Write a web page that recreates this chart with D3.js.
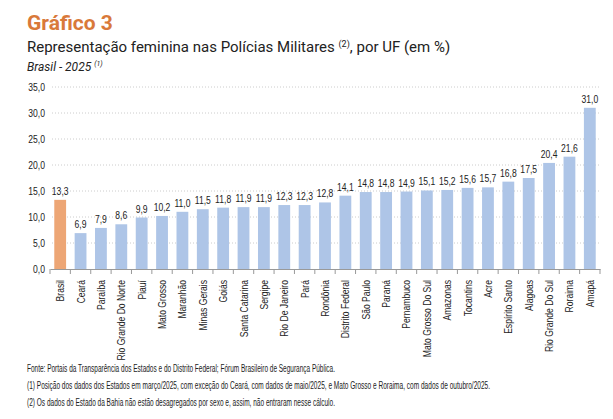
<!DOCTYPE html>
<html><head><meta charset="utf-8">
<script src="https://cdn.jsdelivr.net/npm/d3@7"></script>
<style>
body{margin:0;background:#fff;}
text{font-family:"Liberation Sans",sans-serif;}
</style></head><body>
<svg id="c" width="613" height="419"></svg>
<script>
const states = ["Brasil","Ceará","Paraíba","Rio Grande Do Norte","Piauí","Mato Grosso","Maranhão","Minas Gerais","Goiás","Santa Catarina","Sergipe","Rio De Janeiro","Pará","Rondônia","Distrito Federal","São Paulo","Paraná","Pernambuco","Mato Grosso Do Sul","Amazonas","Tocantins","Acre","Espírito Santo","Alagoas","Rio Grande Do Sul","Roraima","Amapá"];
const values = [13.3,6.9,7.9,8.6,9.9,10.2,11.0,11.5,11.8,11.9,11.9,12.3,12.3,12.8,14.1,14.8,14.8,14.9,15.1,15.2,15.6,15.7,16.8,17.5,20.4,21.6,31.0];
const yTicks = [0,5,10,15,20,25,30,35];
const fmt = v => d3.format(".1f")(v).replace(".", ",");
const SX = 0.78;

const svg = d3.select("#c");
const x = d3.scaleBand().domain(states).range([50, 600]).paddingInner(0.42).paddingOuter(0.21);
const y = d3.scaleLinear().domain([0,35]).range([269, 87]);

// header
svg.append("text").attr("x",27).attr("y",30).attr("fill","#d9793a")
  .style("font-family","Roboto,sans-serif").style("font-size","21px").style("font-weight","bold").text("Gráfico 3");
const t = svg.append("text").attr("x",27).attr("y",52).attr("fill","#222")
  .style("font-family","Roboto,sans-serif").style("font-size","15px");
t.append("tspan").text("Representação feminina nas Polícias Militares ");
t.append("tspan").attr("dy",-5).style("font-size","9px").text("(2)");
t.append("tspan").attr("dy",5).text(", por UF (em %)");
const s = svg.append("text").attr("x",27).attr("y",71).attr("fill","#222")
  .style("font-family","Roboto,sans-serif").style("font-size","12px").style("font-style","italic");
s.append("tspan").text("Brasil - 2025 ");
s.append("tspan").attr("dy",-5).style("font-size","7px").text("(1)");

// grid + y axis labels
svg.append("g").selectAll("line").data(yTicks.slice(1)).join("line")
  .attr("x1",52).attr("x2",600).attr("y1",d=>y(d)).attr("y2",d=>y(d))
  .attr("stroke","#ccc").attr("stroke-dasharray","1,2");
svg.append("g").selectAll("text").data(yTicks).join("text")
  .attr("transform",d=>`translate(45,${y(d)+4}) scale(${SX},1)`).attr("text-anchor","end")
  .style("font-size","11px").attr("fill","#222").text(fmt);

// bars
svg.append("g").selectAll("rect").data(values).join("rect")
  .attr("x",(d,i)=>x(states[i])).attr("width",x.bandwidth())
  .attr("y",d=>y(d)).attr("height",d=>y(0)-y(d))
  .attr("fill",(d,i)=>i===0?"#eda675":"#aec5e7");
svg.append("g").selectAll("text").data(values).join("text")
  .attr("transform",(d,i)=>`translate(${x(states[i])+x.bandwidth()/2},${y(d)-5}) scale(${SX},1)`)
  .attr("text-anchor","middle").style("font-size","11px").attr("fill","#222").text(fmt);

// x axis
const xa = svg.append("g").attr("transform","translate(0,269)")
  .call(d3.axisBottom(x).tickSize(0).tickFormat(""));
xa.select(".domain").attr("stroke","#999");
const step = x.step();
svg.append("g").selectAll("line").data(d3.range(states.length+1)).join("line")
  .attr("x1",i=>50+i*step).attr("x2",i=>50+i*step)
  .attr("y1",269).attr("y2",274).attr("stroke","#999");
svg.append("g").selectAll("text").data(states).join("text")
  .attr("transform",d=>`translate(${x(d)+x.bandwidth()/2+4},280) rotate(-90) scale(${SX},1)`)
  .attr("text-anchor","end").style("font-size","11px").attr("fill","#222").text(d=>d);

// notes
const notes = ["Fonte: Portais da Transparência dos Estados e do Distrito Federal; Fórum Brasileiro de Segurança Pública.",
 "(1) Posição dos dados dos Estados em março/2025, com exceção do Ceará, com dados de maio/2025, e Mato Grosso e Roraima, com dados de outubro/2025.",
 "(2) Os dados do Estado da Bahia não estão desagregados por sexo e, assim, não entraram nesse cálculo."];
const noteW = [308, 463, 308];
svg.append("g").selectAll("text").data(notes).join("text")
  .attr("x",27).attr("y",(d,i)=>372+i*17).style("font-size","10px").attr("fill","#222")
  .attr("textLength",(d,i)=>noteW[i]).attr("lengthAdjust","spacingAndGlyphs").text(d=>d);
</script></body></html>
